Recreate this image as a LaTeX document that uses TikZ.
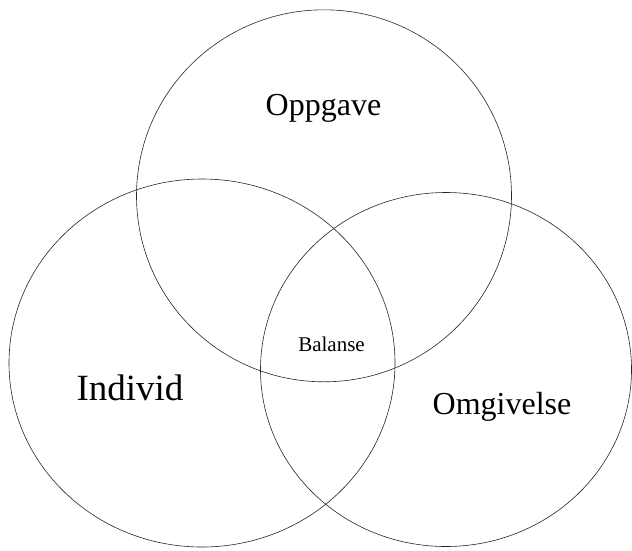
\documentclass[tikz,border=0pt]{standalone}
\usepackage{fontspec}
\setmainfont{Liberation Serif}
\begin{document}
\begin{tikzpicture}[x=1pt,y=-1pt,
  ring/.style={draw=black!85, line width=0.6pt},
  big/.style={font=\fontsize{32}{36}\selectfont, anchor=base, inner sep=0pt},
  bigger/.style={font=\fontsize{37}{40}\selectfont, anchor=base, inner sep=0pt},
  small/.style={font=\fontsize{21}{24}\selectfont, anchor=base, inner sep=0pt}]
\useasboundingbox (0,0) rectangle (632,550);
\draw[ring] (324,195.8) ellipse [x radius=187.5, y radius=186];
\draw[ring] (202,363) ellipse [x radius=193, y radius=184];
\draw[ring] (446,369.5) ellipse [x radius=185.5, y radius=177];
\node[big] (opp) at (323.5,115) {Oppgave};
\node[bigger] (ind) at (130,400.5) {Individ};
\node[big] (omg) at (502,414) {Omgivelse};
\node[small] (bal) at (331.5,351) {Balanse};
\end{tikzpicture}
\end{document}
